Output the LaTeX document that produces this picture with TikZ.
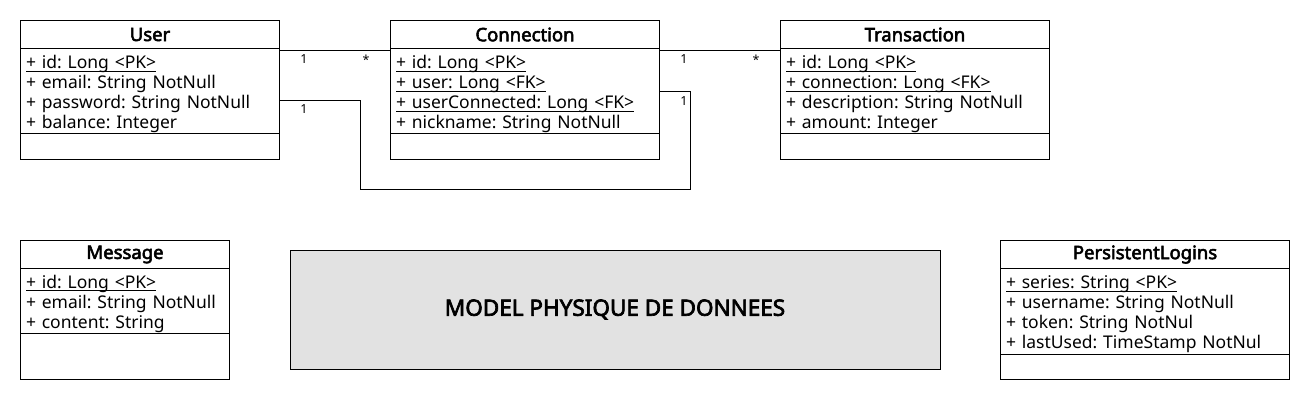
\documentclass[tikz,border=0pt]{standalone}
\usepackage{fontspec}
\setmainfont{Noto Sans}[BoldFont={Noto Sans}, BoldFeatures={FakeBold=3}]
\usepackage{tikz}
\usetikzlibrary{positioning}
\definecolor{titlegray}{HTML}{E2E2E2}
\frenchspacing
\tikzset{
	classhead/.style={draw, line width=1pt, anchor=north west, minimum height=28pt, inner sep=0pt, font=\fontsize{18.5}{21}\selectfont\bfseries},
	classbody/.style={draw, line width=1pt, anchor=north west, inner xsep=5.5pt, inner ysep=0pt, align=left, font=\fontsize{17.5}{20}\selectfont, execute at begin node={\rule{0pt}{18.5pt}}},
	card/.style={inner sep=0pt, font=\fontsize{12.5}{14}\selectfont},
	link/.style={line width=1pt}
}
\def\pk#1{\leavevmode\setbox0\hbox{#1}\rlap{\rule[-3pt]{\wd0}{0.9pt}}\box0}

\begin{document}
\begin{tikzpicture}[x=1pt, y=-1pt]
		%%%%% START %%%%%
		\useasboundingbox (0, 0) rectangle (1310, 400);
		
		% User
		\node[classhead, minimum width=259pt] (User) at (20, 20) {User};
		\node[classbody, text width=248pt, minimum height=85pt] (User-attr) at (20, 48.3) {\pk{+ id: Long <PK>}\\+ email: String NotNull\\+ password: String NotNull\\+ balance: Integer};
		\node[classbody, text width=248pt, minimum height=25.7pt] (User-ops) at (20, 133.3) {};
		
		% Connection
		\node[classhead, minimum width=269pt] (Connection) at (390, 20) {Connection};
		\node[classbody, text width=258pt, minimum height=85pt] (Connection-attr) at (390, 48.3) {\pk{+ id: Long <PK>}\\\pk{+ user: Long <FK>}\\\pk{+ userConnected: Long <FK>}\\+ nickname: String NotNull};
		\node[classbody, text width=258pt, minimum height=25.7pt] (Connection-ops) at (390, 133.3) {};
		
		% Transaction
		\node[classhead, minimum width=269pt] (Transaction) at (780, 20) {Transaction};
		\node[classbody, text width=258pt, minimum height=85pt] (Transaction-attr) at (780, 48.3) {\pk{+ id: Long <PK>}\\\pk{+ connection: Long <FK>}\\+ description: String NotNull\\+ amount: Integer};
		\node[classbody, text width=258pt, minimum height=25.7pt] (Transaction-ops) at (780, 133.3) {};
		
		% Message
		\node[classhead, minimum width=209pt] (Message) at (20, 240) {Message};
		\node[classbody, text width=198pt, minimum height=65pt] (Message-attr) at (20, 268) {\pk{+ id: Long <PK>}\\+ email: String NotNull\\+ content: String};
		\node[classbody, text width=198pt, minimum height=46pt] (Message-ops) at (20, 333) {};
		
		% PersistentLogins
		\node[classhead, minimum width=289pt] (PersistentLogins) at (1000, 240) {PersistentLogins};
		\node[classbody, text width=278pt, minimum height=86pt] (PersistentLogins-attr) at (1000, 268) {\pk{+ series: String <PK>}\\+ username: String NotNull\\+ token: String NotNul\\+ lastUsed: TimeStamp NotNul};
		\node[classbody, text width=278pt, minimum height=25pt] (PersistentLogins-ops) at (1000, 354) {};
		
		% title
		\node[draw, line width=1pt, fill=titlegray, minimum width=650pt, minimum height=119pt, font=\fontsize{22.5}{26}\selectfont\bfseries] (Title) at (615, 309.5) {MODEL PHYSIQUE DE DONNEES};
		
		% links
		\draw[link] ([yshift=-2pt]User-attr.north east) -- ([yshift=-2pt]Connection-attr.north west);
		\draw[link] ([yshift=-2pt]Connection-attr.north east) -- ([yshift=-2pt]Transaction-attr.north west);
		\coordinate (loopA) at (360.5, 189.5);
		\coordinate (loopB) at (690.5, 189.5);
		\draw[link] ([yshift=-9.3pt]User-attr.east) -| (loopA) -- (loopB) |- (Connection-attr.east);
		
		\node[card, xshift=24pt, yshift=-11pt] (cUC1) at (User-attr.north east) {1};
		\node[card, xshift=-24pt, yshift=-11pt] (cUC2) at (Connection-attr.north west) {*};
		\node[card, xshift=24pt, yshift=-11pt] (cCT1) at (Connection-attr.north east) {1};
		\node[card, xshift=-24pt, yshift=-11pt] (cCT2) at (Transaction-attr.north west) {*};
		\node[card, xshift=24pt, yshift=-18pt] (cUU1) at (User-attr.east) {1};
		\node[card, xshift=24pt, yshift=-9.5pt] (cUU2) at (Connection-attr.east) {1};
		
		%%%%% END %%%%%
	\end{tikzpicture}
\end{document}
